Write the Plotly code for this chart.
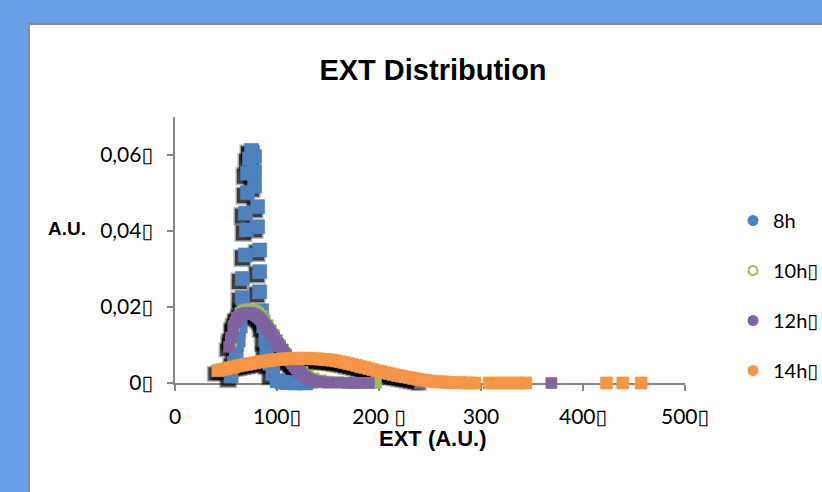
import plotly.graph_objects as go

# ---------------- data ----------------
series_names = ["8h", "10h\u25af", "12h\u25af", "14h\u25af"]
series_colors = ["#4f81bd", "#9bbb59", "#8064a2", "#f79646"]

blue_x = [55, 58, 60, 62, 64, 66, 66, 67, 69, 69, 70, 71, 71, 73, 75, 76, 78, 78, 78, 81,
          81, 83, 83, 83, 85, 87, 89, 90, 93, 96, 100, 105, 110, 118, 128]
blue_y = [0.0018, 0.0052, 0.0082, 0.0113, 0.0150, 0.0225, 0.0275, 0.0195, 0.0337, 0.0447,
          0.0403, 0.0501, 0.0552, 0.0590, 0.0612, 0.0606, 0.0596, 0.0556, 0.0518, 0.0464,
          0.0411, 0.0350, 0.0293, 0.0240, 0.0190, 0.0150, 0.0113, 0.0082, 0.0052, 0.0025,
          0.0006, 0.0002, 0.0001, 0.0, 0.0]

green_x = [55, 58, 61, 64, 67, 70, 73, 76, 79, 82, 85, 88, 91, 94, 97, 100, 103, 106, 109, 112,
           115, 118, 121, 125, 130, 136, 143, 150, 160, 170, 180, 192, 197]
green_y = [0.0110, 0.0150, 0.0172, 0.0184, 0.0190, 0.0193, 0.0194, 0.0193, 0.0190, 0.0184,
           0.0176, 0.0165, 0.0152, 0.0139, 0.0126, 0.0113, 0.0100, 0.0088, 0.0076, 0.0065,
           0.0055, 0.0046, 0.0038, 0.0029, 0.0020, 0.0012, 0.0007, 0.0004, 0.0002, 0.0001,
           0.0, 0.0, 0.0]

purple_x = [53, 55, 57, 59, 61, 63, 65, 67, 69, 71, 73, 75, 77, 79, 81, 83, 85, 87, 89, 91,
            93, 95, 97, 99, 101, 103, 105, 107, 109, 111, 113, 115, 117, 119, 121, 123, 125,
            128, 131, 135, 140, 145, 150, 160, 170, 176, 182, 190, 240, 369]
purple_y = [0.0095, 0.0120, 0.0145, 0.0160, 0.0170, 0.0176, 0.0180, 0.0182, 0.0183, 0.0184,
            0.0184, 0.0183, 0.0181, 0.0178, 0.0174, 0.0169, 0.0163, 0.0157, 0.0150, 0.0143,
            0.0136, 0.0128, 0.0120, 0.0112, 0.0104, 0.0096, 0.0088, 0.0080, 0.0072, 0.0065,
            0.0058, 0.0051, 0.0044, 0.0038, 0.0032, 0.0027, 0.0022, 0.0016, 0.0011, 0.0007,
            0.0004, 0.0002, 0.0001, 0.0001, 0.0, 0.0, 0.0, 0.0, 0.0, 0.0]

orange_x = [42, 46, 50, 54, 58, 62, 66, 70, 74, 78, 82, 86, 90, 94, 98, 102, 106, 110, 114, 118,
            122, 126, 130, 134, 138, 142, 146, 150, 154, 158, 162, 166, 170, 174, 178, 182, 186,
            190, 194, 198, 202, 206, 210, 214, 218, 222, 226, 230, 234, 238, 242, 246, 250, 254,
            258, 262, 266, 270, 275, 280, 285, 290, 294, 308, 314, 320, 326, 333, 338, 344,
            423, 439, 457]
orange_y = [0.0032, 0.0035, 0.0037, 0.0040, 0.0042, 0.0045, 0.0047, 0.0049, 0.0051, 0.0053,
            0.0055, 0.0057, 0.0058, 0.0060, 0.0061, 0.0062, 0.0063, 0.0064, 0.0064, 0.0065,
            0.0065, 0.0065, 0.0065, 0.0064, 0.0064, 0.0063, 0.0062, 0.0061, 0.0060, 0.0058,
            0.0056, 0.0054, 0.0051, 0.0049, 0.0046, 0.0043, 0.0041, 0.0038, 0.0035, 0.0032,
            0.0030, 0.0027, 0.0025, 0.0022, 0.0020, 0.0018, 0.0016, 0.0014, 0.0012, 0.0010,
            0.0008, 0.0007, 0.0005, 0.0004, 0.0003, 0.0003, 0.0002, 0.0001, 0.0001, 0.0001,
            0.0, 0.0, 0.0, 0.0, 0.0, 0.0, 0.0, 0.0, 0.0, 0.0,
            0.0, 0.0, 0.0]

x_tickvals = [0, 100, 200, 300, 400, 500]
x_ticktext = ["0", "100\u25af", "200 \u25af", "300", "400\u25af", "500\u25af"]
y_tickvals = [0, 0.02, 0.04, 0.06]
y_ticktext = ["0\u25af", "0,02\u25af", "0,04\u25af", "0,06\u25af"]

X_RANGE = [0, 500]
Y_RANGE = [0, 0.07]

# ---------------- figure ----------------
W, H = 822, 492
ML, MR, MT, MB = 175, 137, 117, 109
plot_w = W - ML - MR
plot_h = H - MT - MB

# shadow offset (pixels): left and down
dx_px, dy_px = 3, 3
sx = dx_px * (X_RANGE[1] - X_RANGE[0]) / plot_w
sy = dy_px * (Y_RANGE[1] - Y_RANGE[0]) / plot_h

xs = [blue_x, green_x, purple_x, orange_x]
ys = [blue_y, green_y, purple_y, orange_y]
sizes = [14, 11, 11, 12]

fig = go.Figure()

# shadows on base axes (shifted range)
for x, y, s in zip(xs, ys, sizes):
    fig.add_trace(go.Scatter(
        x=x, y=y, mode="markers", xaxis="x", yaxis="y", showlegend=False,
        hoverinfo="skip", cliponaxis=False,
        marker=dict(symbol="square", size=s + 4, color="rgba(0,0,0,0.3)", line=dict(width=0)),
    ))
    fig.add_trace(go.Scatter(
        x=x, y=y, mode="markers", xaxis="x", yaxis="y", showlegend=False,
        hoverinfo="skip", cliponaxis=False,
        marker=dict(symbol="square", size=s + 1, color="rgba(0,0,0,0.65)", line=dict(width=0)),
    ))

# data on overlay axes
for x, y, s, c, n in zip(xs, ys, sizes, series_colors, series_names):
    fig.add_trace(go.Scatter(
        x=x, y=y, mode="markers", xaxis="x2", yaxis="y2", showlegend=False, name=n,
        cliponaxis=False,
        marker=dict(symbol="square", size=s, color=c, line=dict(width=0.6, color=c)),
    ))

# legend entries
legend_symbols = ["circle", "circle-open", "circle", "circle"]
for c, n, sym in zip(series_colors, series_names, legend_symbols):
    fig.add_trace(go.Scatter(
        x=[None], y=[None], mode="markers", xaxis="x2", yaxis="y2", name=n, legendgroup=n,
        marker=dict(symbol=sym, size=9, color=c, line=dict(width=2, color=c)),
    ))

axis_col = "#868686"
tick_font = dict(family="Lato, DejaVu Sans", size=21, color="#000000")

fig.update_layout(
    width=W, height=H,
    margin=dict(l=ML, r=MR, t=MT, b=MB, autoexpand=False),
    paper_bgcolor="#689fe8",
    plot_bgcolor="rgba(0,0,0,0)",
    showlegend=True,
    title=dict(text="<b>EXT Distribution</b>", x=433 / W, xref="container", xanchor="center",
               y=1 - 70 / H, yref="container", yanchor="middle",
               font=dict(family="Liberation Sans, Arial", size=29, color="#000000")),
    xaxis=dict(range=[X_RANGE[0] + sx, X_RANGE[1] + sx], visible=False, fixedrange=True),
    yaxis=dict(range=[Y_RANGE[0] + sy, Y_RANGE[1] + sy], visible=False, fixedrange=True),
    xaxis2=dict(range=X_RANGE, overlaying="x", anchor="y2", side="bottom",
                showgrid=False, zeroline=False, showline=True, linecolor=axis_col, linewidth=1.5,
                ticks="outside", ticklen=6, tickwidth=1.5, tickcolor=axis_col,
                tickvals=x_tickvals, ticktext=x_ticktext, tickfont=tick_font,
                ticklabelstandoff=8, layer="below traces"),
    yaxis2=dict(range=Y_RANGE, overlaying="y", anchor="x2", side="left",
                showgrid=False, zeroline=False, showline=True, linecolor=axis_col, linewidth=1.5,
                ticks="outside", ticklen=6, tickwidth=1.5, tickcolor=axis_col,
                tickvals=y_tickvals, ticktext=y_ticktext, tickfont=tick_font,
                ticklabelstandoff=10, layer="below traces"),
    legend=dict(x=(733 - ML) / plot_w, y=(H - MB - 201) / plot_h, xanchor="left", yanchor="top",
                bgcolor="rgba(0,0,0,0)", font=dict(family="Lato, DejaVu Sans", size=20, color="#000"),
                tracegroupgap=21, itemwidth=30),
    shapes=[dict(type="rect", xref="paper", yref="paper",
                 x0=(29 - ML) / plot_w, x1=(W + 200 - ML) / plot_w,
                 y0=(H - MB - (H + 200)) / plot_h, y1=(H - MB - 24) / plot_h,
                 fillcolor="#ffffff", line=dict(color="#8a8a8a", width=2), layer="below")],
    annotations=[
        dict(text="<b>A.U.</b>", xref="paper", yref="paper",
             x=(67 - ML) / plot_w, y=(H - MB - 228) / plot_h, showarrow=False,
             xanchor="center", yanchor="middle",
             font=dict(family="Liberation Sans, Arial", size=19, color="#000")),
        dict(text="<b>EXT (A.U.)</b>", xref="paper", yref="paper",
             x=(433 - ML) / plot_w, y=(H - MB - 438) / plot_h, showarrow=False,
             xanchor="center", yanchor="middle",
             font=dict(family="Liberation Sans Narrow, Liberation Sans", size=22, color="#000")),
    ],
)

fig.write_html(
    "out.html",
    config={"displayModeBar": False},
    post_script="document.body.style.margin='0';document.body.style.background='#689fe8';",
)
